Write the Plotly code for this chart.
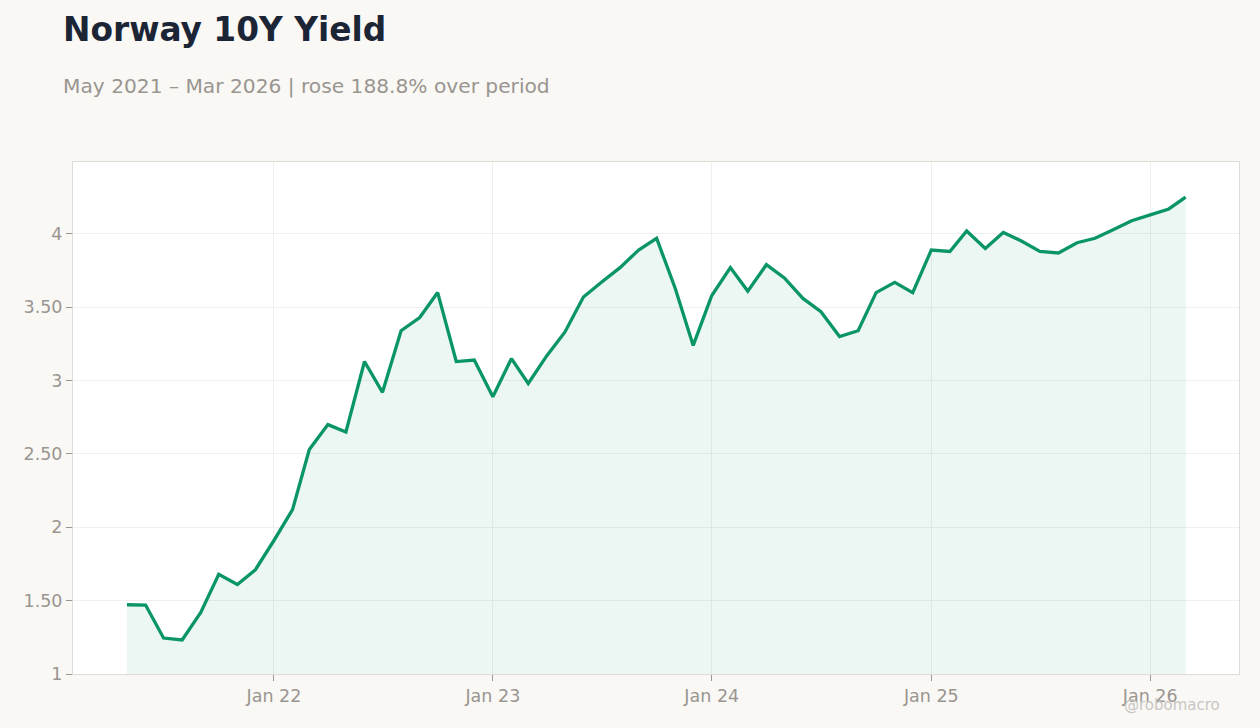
import plotly.graph_objects as go
import pandas as pd

dates = pd.date_range("2021-05-01", "2026-03-01", freq="MS")
yields = [1.472, 1.47, 1.245, 1.232, 1.42, 1.68, 1.61, 1.71, 1.91, 2.12,
          2.53, 2.70, 2.65, 3.13, 2.92, 3.34, 3.43, 3.60, 3.13, 3.14,
          2.89, 3.15, 2.98, 3.17, 3.33, 3.57, 3.67, 3.77, 3.89, 3.97,
          3.63, 3.24, 3.58, 3.77, 3.61, 3.79, 3.70, 3.56, 3.47, 3.30,
          3.34, 3.60, 3.67, 3.60, 3.89, 3.88, 4.02, 3.90, 4.01, 3.95,
          3.88, 3.87, 3.94, 3.97, 4.03, 4.09, 4.13, 4.17, 4.25]

ytick_vals = [1, 1.5, 2, 2.5, 3, 3.5, 4]
ytick_text = ["1", "1.50", "2", "2.50", "3", "3.50", "4"]
xtick_vals = ["2022-01-01", "2023-01-01", "2024-01-01", "2025-01-01", "2026-01-01"]
xtick_text = ["Jan 22", "Jan 23", "Jan 24", "Jan 25", "Jan 26"]

FONT = "DejaVu Sans"
LINE = "#0a9664"
TICK = "#999590"

fig = go.Figure()
fig.add_trace(go.Scatter(
    x=dates, y=yields, mode="lines",
    line=dict(color=LINE, width=3.3),
    fill="tozeroy", fillcolor="rgba(10,150,100,0.08)",
    hoverinfo="x+y",
))

axis_common = dict(
    showgrid=True, gridcolor="#f0efed", gridwidth=1,
    ticks="outside", ticklen=6, tickcolor=TICK,
    showline=True, linecolor="#dedbd6", linewidth=1, mirror=True,
    zeroline=False,
    tickfont=dict(family=FONT, size=17.5, color=TICK),
)

fig.update_layout(
    width=1260, height=728,
    paper_bgcolor="#f9f8f5", plot_bgcolor="#ffffff",
    margin=dict(l=73, r=21, t=162, b=54),
    showlegend=False,
    font=dict(family=FONT, color=TICK, size=17),
    xaxis=dict(type="date", range=["2021-01-31", "2026-05-29"],
               tickvals=xtick_vals, ticktext=xtick_text, **axis_common),
    yaxis=dict(range=[1, 4.49], tickvals=ytick_vals, ticktext=ytick_text,
               **axis_common),
)

ph = 728 - 162 - 54
pw = 1260 - 73 - 21
fig.add_annotation(text="<b>Norway 10Y Yield</b>", xref="paper", yref="paper",
                   x=(61 - 73) / pw, y=1 + (162 - 30) / ph, xanchor="left", yanchor="middle",
                   showarrow=False, font=dict(family=FONT, size=32.8, color="#1c2536"))
fig.add_annotation(text="May 2021 – Mar 2026 | rose 188.8% over period",
                   xref="paper", yref="paper", x=(61 - 73) / pw, y=1 + (162 - 86) / ph,
                   xanchor="left", yanchor="middle", showarrow=False,
                   font=dict(family=FONT, size=20.2, color=TICK))
fig.add_annotation(text="@robomacro", xref="paper", yref="paper",
                   x=1 - (1239 - 1222) / pw, y=-(705 - 674) / ph,
                   xanchor="right", yanchor="middle", showarrow=False,
                   font=dict(family=FONT, size=15, color="#c8c6c2"))

fig.write_html("out.html")
